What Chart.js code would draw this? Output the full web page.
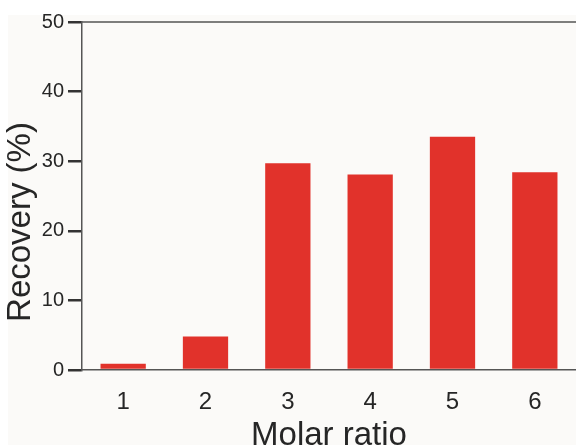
<!DOCTYPE html>
<html>
<head>
<meta charset="utf-8">
<script src="https://cdn.jsdelivr.net/npm/chart.js@4/dist/chart.umd.min.js"></script>
<style>
  html, body { margin: 0; padding: 0; background: #fff; }
  #wrap { width: 576px; height: 445px; }
</style>
</head>
<body>
<div id="wrap"><canvas id="chart" width="576" height="445"></canvas></div>
<script>
// data
const categories = ["1", "2", "3", "4", "5", "6"];
const recovery = [0.9, 4.8, 29.7, 28.1, 33.5, 28.4];
const yMin = 0;
const yMax = 50;
const yStep = 10;

const FONT = '"Liberation Sans", Arial, sans-serif';
const TEXT = "#262626";
const AXIS = "#555555";

// off-white paper behind the plot
const paper = {
    id: "paper",
    beforeDraw(chart) {
        const { ctx, width, height } = chart;
        ctx.save();
        ctx.fillStyle = "#ffffff";
        ctx.fillRect(0, 0, width, height);
        ctx.fillStyle = "#fbfaf8";
        ctx.fillRect(8, 15, width - 8, height - 15);
        ctx.restore();
    }
};

// top edge of the frame
const frameTop = {
    id: "frameTop",
    afterDraw(chart) {
        const { ctx, chartArea } = chart;
        ctx.save();
        ctx.strokeStyle = AXIS;
        ctx.lineWidth = 1.5;
        ctx.beginPath();
        ctx.moveTo(chartArea.left, chartArea.top);
        ctx.lineTo(chartArea.right, chartArea.top);
        ctx.stroke();
        ctx.restore();
    }
};

// y title, sits a bit low like in the figure
const yTitle = {
    id: "yTitle",
    afterDraw(chart) {
        const { ctx } = chart;
        ctx.save();
        ctx.translate(21, 222);
        ctx.rotate(-Math.PI / 2);
        ctx.textAlign = "center";
        ctx.textBaseline = "middle";
        ctx.fillStyle = TEXT;
        ctx.font = "33px " + FONT;
        ctx.fillText("Recovery (%)", 0, 0);
        ctx.restore();
    }
};

const ctx = document.getElementById("chart").getContext("2d");

new Chart(ctx, {
    type: "bar",
    data: {
        labels: categories,
        datasets: [{
            data: recovery,
            backgroundColor: "#e1322b",
            borderWidth: 0,
            barPercentage: 0.55,
            categoryPercentage: 1.0
        }]
    },
    options: {
        responsive: false,
        animation: false,
        devicePixelRatio: 1,
        layout: { padding: { top: 22, left: 0, right: 0, bottom: 0 } },
        plugins: {
            legend: { display: false },
            tooltip: { enabled: false }
        },
        scales: {
            x: {
                z: 1,
                grid: { display: false, drawTicks: false },
                border: { display: true, color: AXIS, width: 1.5 },
                ticks: {
                    color: TEXT,
                    padding: 18,
                    font: { family: FONT, size: 24 }
                },
                title: {
                    display: true,
                    text: "Molar ratio",
                    color: TEXT,
                    font: { family: FONT, size: 33, lineHeight: 0.75 },
                    padding: { top: 0, bottom: -3 }
                },
                afterFit(scale) { scale.height = 75; }
            },
            y: {
                z: 1,
                min: yMin,
                max: yMax,
                grid: {
                    display: true,
                    drawOnChartArea: false,
                    drawTicks: true,
                    tickLength: 14,
                    color: "#333333",
                    lineWidth: 2.5
                },
                border: { display: true, color: AXIS, width: 1.5 },
                ticks: {
                    stepSize: yStep,
                    color: TEXT,
                    padding: 4,
                    font: { family: FONT, size: 20 }
                },
                afterFit(scale) { scale.width = 82; }
            }
        }
    },
    plugins: [paper, frameTop, yTitle]
});
</script>
</body>
</html>
